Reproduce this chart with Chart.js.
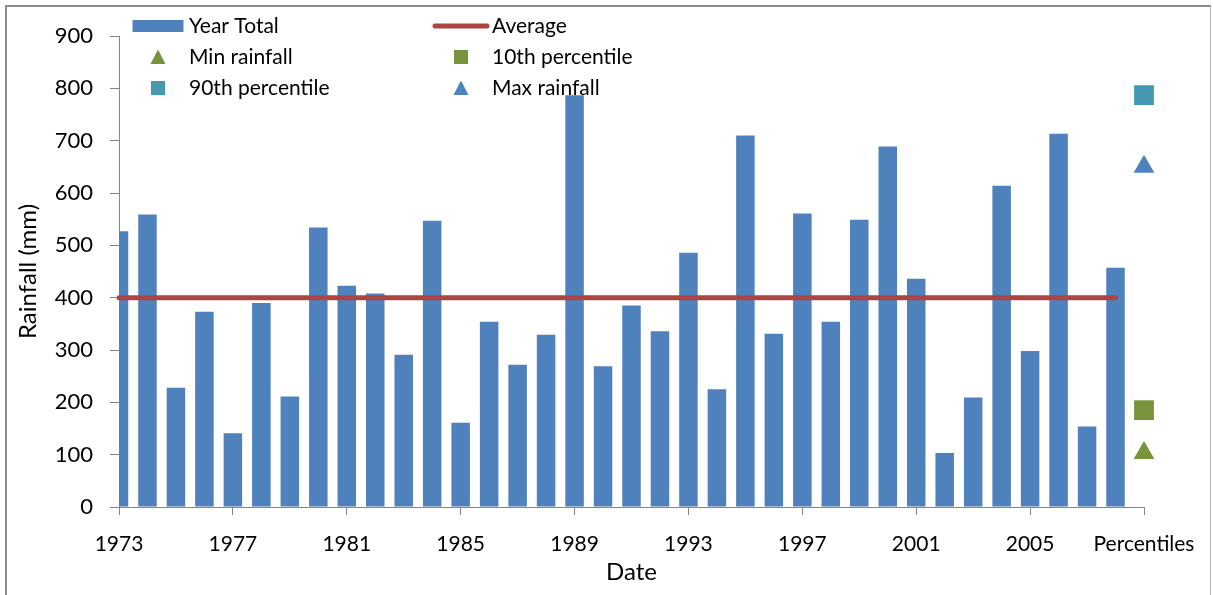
<!DOCTYPE html>
<html>
<head>
<meta charset="utf-8">
<script src="https://cdn.jsdelivr.net/npm/chart.js"></script>
<style>
  html, body { margin: 0; padding: 0; background: #fff; }
  #wrap { position: relative; width: 1213px; height: 595px; overflow: hidden; }
  #frame {
    position: absolute; left: 5px; top: 5px; width: 1203px; height: 620px;
    border-left: 2px solid #8c8c8c; border-top: 2px solid #8c8c8c; border-right: 1px solid #b4b4b4;
    pointer-events: none;
  }
</style>
</head>
<body>
<div id="wrap">
  <canvas id="rainChart" width="1213" height="595"></canvas>
  <div id="frame"></div>
</div>
<script>
// yearly rainfall totals (mm)
const years = ['1973', '1974', '1975', '1976', '1977', '1978', '1979', '1980', '1981', '1982',
  '1983', '1984', '1985', '1986', '1987', '1988', '1989', '1990', '1991', '1992',
  '1993', '1994', '1995', '1996', '1997', '1998', '1999', '2000', '2001', '2002',
  '2003', '2004', '2005', '2006', '2007', '2008'];
const yearTotal = [527, 559, 228, 373, 141, 390, 211, 534, 423, 408,
  291, 547, 161, 354, 272, 329, 787, 269, 385, 336,
  486, 225, 710, 331, 561, 354, 549, 689, 436, 103,
  209, 614, 298, 713, 154, 457];
const averageRainfall = 400;

// percentile markers, shown in the extra "Percentiles" column
const minRainfall = 103;
const p10 = 185;
const p90 = 787;
const maxRainfall = 650;

const labels = years.concat(['Percentiles']);
const last = labels.length - 1;

function atPercentiles(v) {
  return labels.map((_, i) => (i === last ? v : null));
}

const FONT = 'Lato, "Open Sans", sans-serif';

// two-column legend drawn inside the plot, like the original
const cornerLegend = {
  id: 'cornerLegend',
  afterDraw(chart, args, opts) {
    const ctx = chart.ctx;
    ctx.save();
    ctx.font = opts.fontSize + 'px ' + FONT;
    ctx.fillStyle = '#000';
    ctx.textBaseline = 'middle';
    chart.data.datasets.forEach((ds, i) => {
      const col = i % 2, row = Math.floor(i / 2);
      const mx = opts.markerX[col], tx = opts.textX[col], y = opts.rowY[row];
      if (ds.type === 'bar') {
        ctx.fillStyle = ds.backgroundColor;
        ctx.fillRect(mx - 25.5, y - 6, 51, 12);
      } else if (ds.showLine !== false) {
        ctx.strokeStyle = ds.borderColor;
        ctx.lineWidth = ds.borderWidth;
        ctx.lineCap = 'round';
        ctx.beginPath();
        ctx.moveTo(mx - 26, y);
        ctx.lineTo(mx + 26, y);
        ctx.stroke();
      } else if (ds.pointStyle === 'rect') {
        ctx.fillStyle = ds.pointBackgroundColor;
        ctx.fillRect(mx - 7, y - 7, 14, 14);
      } else {
        ctx.fillStyle = ds.pointBackgroundColor;
        ctx.beginPath();
        ctx.moveTo(mx, y - 7.5);
        ctx.lineTo(mx + 7.5, y + 7);
        ctx.lineTo(mx - 7.5, y + 7);
        ctx.closePath();
        ctx.fill();
      }
      ctx.fillStyle = '#000';
      ctx.fillText(ds.label, tx, y);
    });
    ctx.restore();
  }
};

function marker(label, value, style, color, radius) {
  return {
    type: 'line',
    label: label,
    data: atPercentiles(value),
    showLine: false,
    pointStyle: style,
    pointRadius: radius,
    pointHoverRadius: radius,
    pointBackgroundColor: color,
    pointBorderColor: color,
    pointBorderWidth: 0,
    clip: false,
    order: 0
  };
}

new Chart(document.getElementById('rainChart'), {
  data: {
    labels: labels,
    datasets: [
      {
        type: 'bar',
        label: 'Year Total',
        data: yearTotal.concat([null]),
        backgroundColor: '#4f81bd',
        borderWidth: 0,
        categoryPercentage: 1,
        barPercentage: 0.65,
        order: 2
      },
      {
        type: 'line',
        label: 'Average',
        data: years.map(() => averageRainfall).concat([null]),
        borderColor: '#ac4542',
        borderWidth: 5,
        borderCapStyle: 'round',
        pointRadius: 0,
        tension: 0,
        order: 1
      },
      marker('Min rainfall', minRainfall, 'triangle', '#77933c', 12),
      marker('10th percentile', p10, 'rect', '#77933c', 14),
      marker('90th percentile', p90, 'rect', '#4498b0', 14),
      marker('Max rainfall', maxRainfall, 'triangle', '#4f81bd', 12)
    ]
  },
  options: {
    responsive: false,
    animation: false,
    layout: { padding: { top: 36, right: 69, bottom: 0, left: 0 } },
    plugins: {
      legend: { display: false },
      tooltip: { enabled: false },
      cornerLegend: {
        fontSize: 21,
        markerX: [158, 461],
        textX: [189, 492],
        rowY: [26, 57, 88]
      }
    },
    scales: {
      x: {
        type: 'category',
        offset: false,
        grid: { display: true, offset: false, drawOnChartArea: false, drawTicks: true, tickLength: 8, color: '#868686' },
        border: { color: '#868686', width: 1 },
        ticks: {
          autoSkip: false,
          maxRotation: 0,
          padding: 17,
          color: '#000',
          font: { family: FONT, size: 21 },
          callback: function (val, i) { return i % 4 === 0 ? this.getLabelForValue(val) : null; }
        },
        title: {
          display: true, text: 'Date', color: '#000',
          font: { family: FONT, size: 24 }, padding: { top: 0, bottom: 8 }
        },
        afterFit: (scale) => { scale.height = 88; }
      },
      y: {
        min: 0,
        max: 900,
        grid: { display: true, drawOnChartArea: false, drawTicks: true, tickLength: 9, color: '#868686' },
        border: { color: '#868686', width: 1 },
        ticks: {
          stepSize: 100,
          padding: 17,
          color: '#000',
          font: { family: FONT, size: 22 }
        },
        title: {
          display: true, text: 'Rainfall (mm)', color: '#000',
          font: { family: FONT, size: 24 }, padding: { top: 14, bottom: 0 }
        },
        afterFit: (scale) => { scale.width = 119; }
      }
    }
  },
  plugins: [cornerLegend]
});
</script>
</body>
</html>
